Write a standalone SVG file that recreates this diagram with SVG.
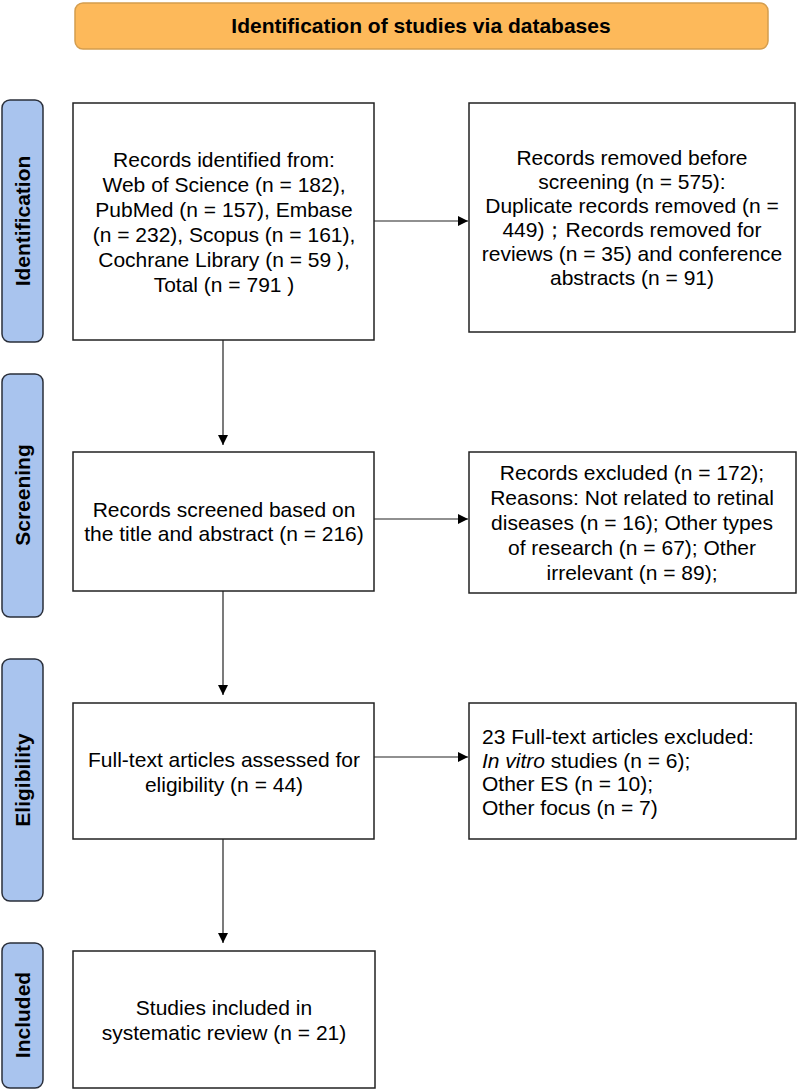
<svg xmlns="http://www.w3.org/2000/svg" width="797" height="1089" viewBox="0 0 797 1089">
<style>
text{font-family:"Liberation Sans",Arial,sans-serif;fill:#000}
.t{font-size:21px;text-anchor:middle}
.tl{font-size:21px;text-anchor:start}
.hd{font-size:21px;font-weight:bold;text-anchor:middle}
.side{fill:#a9c4ee;stroke:#2a2f3a;stroke-width:1.5}
.box{fill:#fff;stroke:#222;stroke-width:1.5}
.con{stroke:#222;stroke-width:1.2;fill:none}
</style>
<defs>
<marker id="ah" viewBox="0 0 10 10" refX="10" refY="5" markerWidth="10" markerHeight="10" markerUnits="userSpaceOnUse" orient="auto">
<path d="M0,0 L10,5 L0,10 z" fill="#000"/>
</marker>
</defs>
<rect width="797" height="1089" fill="#fff"/>
<g id="banner">
<rect x="75" y="3" width="693" height="46" rx="8" fill="#fdb95a" stroke="#d49d4e" stroke-width="1.5"/>
<text class="hd" x="421" y="33">Identification of studies via databases</text>
</g>
<g id="lbl-identification">
<rect class="side" x="2" y="100" width="41" height="242" rx="8"/>
<text class="hd" transform="translate(30,221) rotate(-90)">Identification</text>
</g>
<g id="lbl-screening">
<rect class="side" x="2" y="374" width="41" height="243" rx="8"/>
<text class="hd" transform="translate(30,495) rotate(-90)">Screening</text>
</g>
<g id="lbl-eligibility">
<rect class="side" x="2" y="659" width="41" height="242" rx="8"/>
<text class="hd" transform="translate(30,780) rotate(-90)">Eligibility</text>
</g>
<g id="lbl-included">
<rect class="side" x="2" y="943" width="41" height="145" rx="8"/>
<text class="hd" transform="translate(30,1015) rotate(-90)">Included</text>
</g>
<g id="n-identified">
<rect class="box" x="73" y="103" width="301" height="237"/>
<text class="t" x="224" y="167">Records identified from:</text>
<text class="t" x="224" y="192">Web of Science (n = 182),</text>
<text class="t" x="224" y="217">PubMed (n = 157), Embase</text>
<text class="t" x="224" y="242">(n = 232),  Scopus (n = 161),</text>
<text class="t" x="224" y="267">Cochrane Library (n = 59 ),</text>
<text class="t" x="224" y="292">Total (n = 791 )</text>
</g>
<g id="n-removed">
<rect class="box" x="469" y="103" width="326" height="229"/>
<text class="t" x="632" y="165">Records removed before</text>
<text class="t" x="632" y="189">screening (n = 575):</text>
<text class="t" x="632" y="213">Duplicate records removed  (n =</text>
<text class="t" x="632" y="237">449)；Records removed for</text>
<text class="t" x="632" y="261">reviews (n = 35) and conference</text>
<text class="t" x="632" y="285">abstracts (n = 91)</text>
</g>
<g id="n-screened">
<rect class="box" x="73" y="452" width="301" height="139"/>
<text class="t" x="224" y="517">Records screened based on</text>
<text class="t" x="224" y="541">the title and abstract (n = 216)</text>
</g>
<g id="n-excluded">
<rect class="box" x="469" y="452" width="327" height="141"/>
<text class="t" x="632" y="480">Records excluded (n = 172);</text>
<text class="t" x="632" y="505">Reasons: Not related to retinal</text>
<text class="t" x="632" y="530">diseases (n = 16); Other types</text>
<text class="t" x="632" y="555">of research (n = 67); Other</text>
<text class="t" x="632" y="580">irrelevant (n = 89);</text>
</g>
<g id="n-fulltext">
<rect class="box" x="73" y="703" width="301" height="136"/>
<text class="t" x="224" y="767">Full-text articles assessed for</text>
<text class="t" x="224" y="792">eligibility (n = 44)</text>
</g>
<g id="n-ftexcluded">
<rect class="box" x="469" y="703" width="327" height="136"/>
<text class="tl" x="482" y="744">23 Full-text articles excluded:</text>
<text class="tl" x="482" y="768"><tspan font-style="italic">In vitro</tspan> studies (n = 6);</text>
<text class="tl" x="482" y="791">Other ES (n = 10);</text>
<text class="tl" x="482" y="815">Other focus (n = 7)</text>
</g>
<g id="n-included">
<rect class="box" x="73" y="951" width="302" height="137"/>
<text class="t" x="224" y="1015">Studies included in</text>
<text class="t" x="224" y="1040">systematic review (n = 21)</text>
</g>
<g id="connectors">
<line class="con" x1="374" y1="221" x2="468" y2="221" marker-end="url(#ah)"/>
<line class="con" x1="223" y1="340" x2="223" y2="445" marker-end="url(#ah)"/>
<line class="con" x1="374" y1="519" x2="468" y2="519" marker-end="url(#ah)"/>
<line class="con" x1="223" y1="591" x2="223" y2="695" marker-end="url(#ah)"/>
<line class="con" x1="374" y1="757" x2="468" y2="757" marker-end="url(#ah)"/>
<line class="con" x1="223" y1="839" x2="223" y2="943" marker-end="url(#ah)"/>
</g>
</svg>
